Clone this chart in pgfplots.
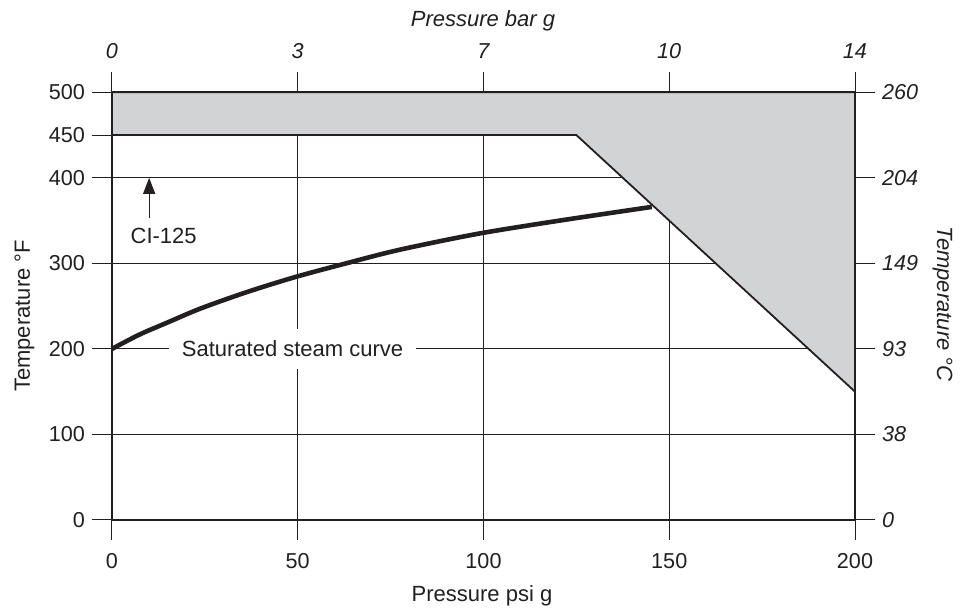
\documentclass[border=0pt]{standalone}
\usepackage{fontspec}
\setmainfont{Liberation Sans}
\usepackage{pgfplots}
\pgfplotsset{compat=1.18}
\usetikzlibrary{arrows.meta}
\definecolor{ink}{HTML}{231F20}
\definecolor{fillgray}{HTML}{D1D3D4}
\begin{document}
\begin{tikzpicture}
\pgfplotsset{
  common/.style={
    scale only axis, width=371.5pt, height=213.85pt,
    xmin=0,xmax=200,ymin=0,ymax=500,
    tick align=outside, major tick length=10pt,
    tick style={line width=0.5pt, color=ink},
    axis line style={line width=0.9pt, color=ink},
    /pgf/number format/assume math mode=true,
    tick label style={font=\fontsize{10.8}{12}\selectfont, color=ink},
  }
}
\begin{axis}[common, name=main, clip=false,
  axis x line*=bottom, axis y line*=left,
  xtick={0,50,100,150,200}, ytick={0,100,200,300,400,450,500},
  xticklabel style={yshift=-3pt},
  grid=major, grid style={line width=0.5pt, color=ink},
  xlabel={Pressure psi g}, ylabel={Temperature °F},
  every axis x label/.style={at={(axis description cs:0.498,-0.1917)}, anchor=base, font=\fontsize{11}{13}\selectfont, text=ink},
  every axis y label/.style={at={(axis description cs:-0.1104,0.477)}, anchor=base, rotate=90, font=\fontsize{11}{13}\selectfont, text=ink},
]
\addplot[fill=fillgray, draw=ink, line width=0.9pt] coordinates {(0,450) (0,500) (200,500) (200,150) (125,450)} -- cycle;
\addplot[ink, line width=2.3pt, smooth] coordinates {
(0,200) (3,207) (8,218) (15,231) (23.7,247) (36,266) (49.3,284) (63,300) (77.5,316) (99,335) (122,351) (145.3,366)};
\node[fill=white, inner xsep=6.5pt, inner ysep=6pt, font=\fontsize{11}{13}\selectfont, text=ink] at (axis cs:48.6,200) {Saturated steam curve};
\draw[ink, line width=0.6pt, -{Triangle[width=6pt,length=8pt]}] (axis cs:10,353) -- (axis cs:10,400);
\node[anchor=base, inner sep=0pt, font=\fontsize{11}{13}\selectfont, text=ink] at (axis cs:13.9,323.8) {CI-125};
\end{axis}
\begin{axis}[common,
  axis x line*=top, axis y line*=right,
  xtick={0,50,100,150,200}, xticklabels={0,3,7,10,14},
  ytick={0,100,200,300,400,500}, yticklabels={0,38,93,149,204,260},
  tick label style={font=\fontsize{10.8}{12}\selectfont\itshape},
  xticklabel style={yshift=3.5pt},
  xlabel={Pressure bar g}, ylabel={Temperature °C},
  every axis x label/.style={at={(axis description cs:0.4993,1.1527)}, anchor=base, font=\fontsize{11}{13}\selectfont\itshape, text=ink},
  every axis y label/.style={at={(axis description cs:1.1104,0.505)}, anchor=base, rotate=-90, font=\fontsize{11}{13}\selectfont\itshape, text=ink},
]
\end{axis}
\path (main.south west) ++(-56pt,-43.5pt) rectangle ([shift={(57.5pt,46.15pt)}]main.north east);
\end{tikzpicture}
\end{document}
